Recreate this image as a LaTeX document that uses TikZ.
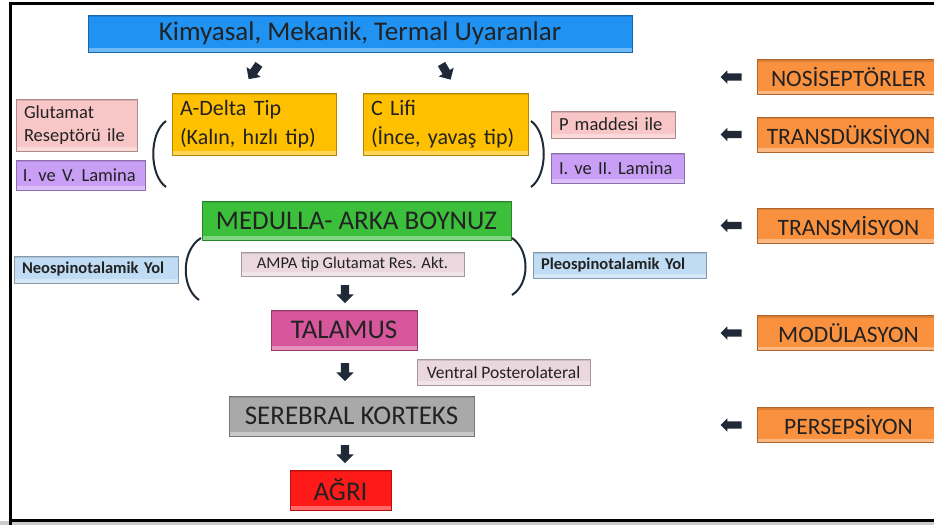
\documentclass[tikz,border=0pt]{standalone}
\usepackage{fontspec}
\setmainfont{Carlito}
\usetikzlibrary{shapes.arrows,positioning}

\definecolor{stimblue}{HTML}{1F92F2}
\definecolor{fibregold}{HTML}{FFC000}
\definecolor{rosebox}{HTML}{F8C6C6}
\definecolor{lilacbox}{HTML}{C99EF5}
\definecolor{horngreen}{HTML}{3CC03C}
\definecolor{palerose}{HTML}{EBD8DF}
\definecolor{paleblue}{HTML}{BFDCF4}
\definecolor{talpink}{HTML}{D6579B}
\definecolor{cortgray}{HTML}{A9A9A9}
\definecolor{painred}{HTML}{FF1A1A}
\definecolor{stageorange}{HTML}{FA913F}
\definecolor{arrowdark}{HTML}{1F2A36}
\definecolor{textdark}{HTML}{222222}

\begin{document}
\begin{tikzpicture}
  [
    x=1pt, y=-1pt,
    box/.style={draw=#1!70!black, fill=#1, text=textdark, inner ysep=0pt, inner xsep=8pt,
      path picture={
        \fill [white, opacity=.35] (path picture bounding box.south west)
          rectangle ([yshift=4pt]path picture bounding box.south east);
        \fill [black, opacity=.12] (path picture bounding box.north west)
          rectangle ([yshift=-2pt]path picture bounding box.north east);
      }},
    big/.style={font=\fontsize{27}{30}\selectfont},
    mid/.style={font=\fontsize{22}{29}\selectfont},
    small/.style={font=\fontsize{18.5}{23}\selectfont},
    tiny/.style={font=\fontsize{16.5}{18}\selectfont},
    blockarrow/.style={single arrow, fill=arrowdark, draw=none, inner xsep=0pt, inner ysep=4pt,
      minimum height=18pt, single arrow head extend=4.5pt},
    stage/.style={box=stageorange, font=\fontsize{23.5}{26}\selectfont,
      minimum width=183pt, minimum height=35pt},
    bracket/.style={draw=arrowdark, line width=2pt},
  ]

  % frame
  \useasboundingbox (0,0) rectangle (934,525);
  \fill [cortgray!60] (0,521) rectangle (934,525);
  \draw [black, line width=3pt] (10,525) -- (10,3) -- (934,3);
  \draw [black, line width=3pt] (10,520) -- (934,520);

  % stimulus
  \node [box=stimblue, minimum width=544pt, minimum height=37pt,
    font=\fontsize{27}{30}\selectfont] (stim) at (360,33.5) {Kimyasal, Mekanik, Termal Uyaranlar};
  \node [blockarrow, rotate=-125] (sa) at (255,70) {};
  \node [blockarrow, rotate=-60] (sc) at (445,70) {};

  % fibres
  \node [box=fibregold, mid, align=left, text width=148pt, minimum height=62pt] (adelta)
    at (254,124) {A-Delta Tip\\(Kalın, hızlı tip)};
  \node [box=fibregold, mid, align=left, text width=149pt, minimum height=62pt] (clifi)
    at (445.5,124) {C Lifi\\(İnce, yavaş tip)};

  \node [box=rosebox, small, align=left, text width=105pt, minimum height=52pt] (glut)
    at (76.5,125) {Glutamat\\Reseptörü ile};
  \node [box=lilacbox, small, align=left, text width=115pt, inner xsep=7pt, minimum height=30pt] (lamav)
    at (80.5,175) {I. ve V. Lamina};
  \node [box=rosebox, small, align=left, text width=108pt, minimum height=27pt] (pmad)
    at (613,124.5) {P maddesi ile};
  \node [box=lilacbox, small, align=left, text width=117pt, minimum height=30pt] (lamaii)
    at (617.5,168) {I. ve II. Lamina};

  \draw [bracket] (166,121) .. controls (149,133) and (149,175) .. (166,187);
  \draw [bracket] (531,121) .. controls (548,133) and (548,175) .. (531,187);

  % spinal cord
  \node [box=horngreen, big, minimum width=309pt, minimum height=39pt] (med)
    at (356.5,220.5) {MEDULLA- ARKA BOYNUZ};
  \node [box=palerose, tiny, minimum width=223pt, minimum height=24pt] (ampa)
    at (352.5,264) {AMPA tip Glutamat Res. Akt.};
  \node [box=paleblue, font=\fontsize{16.5}{18}\selectfont\bfseries, align=left, text width=148pt,
    minimum height=27pt] (neo) at (96,269.5) {Neospinotalamik Yol};
  \node [box=paleblue, font=\fontsize{16.5}{18}\selectfont\bfseries, align=left, text width=157pt,
    minimum height=26pt] (pleo) at (619.5,265) {Pleospinotalamik Yol};

  \draw [bracket] (201,238) .. controls (181,250) and (181,288) .. (199,300);
  \draw [bracket] (512,238) .. controls (530,250) and (530,284) .. (512,295);

  % brain
  \node [blockarrow, rotate=-90] (d1) at (345,292) {};
  \node [box=talpink, big, minimum width=146pt, minimum height=40pt] (tal)
    at (344,330) {TALAMUS};
  \node [blockarrow, rotate=-90] (d2) at (345,370) {};
  \node [box=palerose, font=\fontsize{17.5}{19}\selectfont, minimum width=173pt,
    minimum height=26pt] (vpl) at (503.5,372) {Ventral Posterolateral};
  \node [box=cortgray, big, minimum width=245pt, minimum height=40pt] (cortex)
    at (351.5,416) {SEREBRAL KORTEKS};
  \node [blockarrow, rotate=-90] (d3) at (345,452) {};
  \node [box=painred, big, minimum width=101pt, minimum height=40pt] (pain)
    at (340.5,490) {AĞRI};

  % stages
  \foreach \n/\y/\t in {nos/77/NOSİSEPTÖRLER, trd/134.5/TRANSDÜKSİYON,
      trm/225.5/TRANSMİSYON, mod/333/MODÜLASYON, per/425/PERSEPSİYON} {
    \node [stage] (\n) at (848.5,\y) {\t};
    \node [blockarrow, shape border rotate=180, inner ysep=3.5pt, minimum height=21pt,
      single arrow head extend=3pt, left=15pt of \n] (\n-a) {};
  }

\end{tikzpicture}
\end{document}
